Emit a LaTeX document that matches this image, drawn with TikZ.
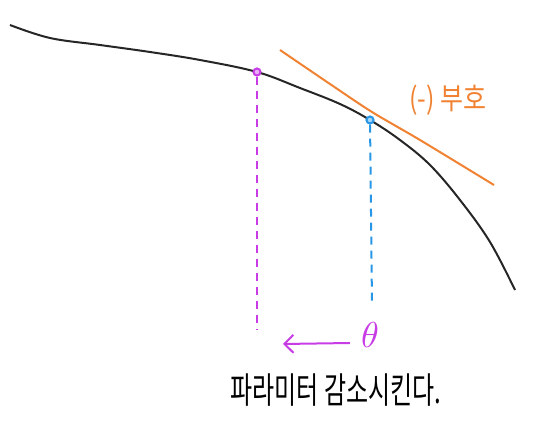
\documentclass[tikz,border=0pt]{standalone}
\usepackage{fontspec}
\newfontfamily\kr{Noto Sans CJK KR}
\usetikzlibrary{arrows.meta, positioning}
\definecolor{sketchorange}{RGB}{240,130,50}
\definecolor{sketchpurple}{RGB}{200,60,230}
\definecolor{sketchblue}{RGB}{40,150,230}
\tikzset{
  curve/.style={line width=2pt, black!85},
  dot/.style={circle, draw=#1, fill=#1!40, line width=2pt, inner sep=2.5pt},
  drop/.style={dashed, line width=2pt, #1, dash pattern=on 8pt off 6pt},
}
\begin{document}
\begin{tikzpicture}[x=1pt, y=-1pt]
				\useasboundingbox (0,0) rectangle (557,436);
				\draw[curve] plot[smooth, tension=0.6] coordinates {(10,25) (50,38) (100,45) (150,52) (200,60) (257,72) (300,88) (340,104) (370,120) (400,140) (430,165) (460,200) (490,242) (515,290)};
				\draw[line width=2pt, sketchorange] plot[smooth] coordinates {(280,50) (330,84) (372,112) (420,140) (494,185)};
				\node[text=sketchorange, font=\kr\fontsize{25}{28}\selectfont] (sign) at (448,100) {\scalebox{1}[1.2]{(-) 부호}};
				\node[dot=sketchpurple] (pa) at (257,72) {};
				\node[dot=sketchblue] (pb) at (370,120) {};
				\coordinate (pa-end) at (257,330);
				\coordinate (pb-end) at (372,305);
				\draw[drop=sketchpurple] (pa) -- (pa-end);
				\draw[drop=sketchblue] (pb) -- (pb-end);
				\node[text=sketchpurple, inner sep=1pt] (theta) at (370,335) {\scalebox{3.6}{$\theta$}};
				\coordinate (arr-end) at (283,344);
				\draw[-{Straight Barb[length=9pt, width=18pt]}, line width=2pt, sketchpurple] (theta.west) ++(-10,8) coordinate (arr-start) -- (arr-end);
				\node[font=\kr\fontsize{24}{26}\selectfont] (caption) at (336,390) {\scalebox{1}[1.5]{파라미터 감소시킨다.}};
			\end{tikzpicture}
\end{document}
